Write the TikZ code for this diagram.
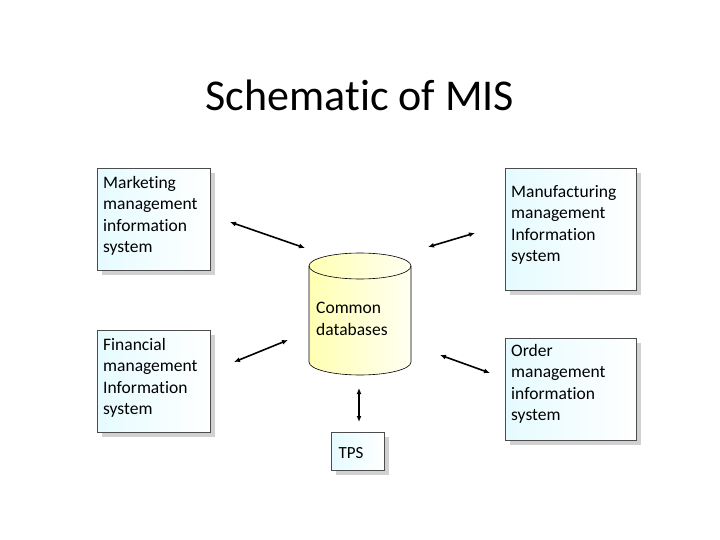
\documentclass[tikz,border=0pt]{standalone}
\usepackage{fontspec}
\setmainfont{Carlito}[Ligatures={NoCommon,NoRare,NoContextual}]
\usetikzlibrary{arrows.meta}
\begin{document}
\begin{tikzpicture}[x=1pt,y=-1pt,
 box/.style={draw=black!70,line width=0.6pt,left color=blue!15!cyan!10,right color=white,anchor=north west,inner sep=0pt},
 lbl/.style={anchor=north west,align=left,font=\fontsize{17.5}{21.5}\selectfont,inner sep=0pt},
 shad/.style={fill=black!18},
 arr/.style={line width=1.6pt,<->,>={Latex[length=6pt,width=5pt]}}]
\useasboundingbox (0,0) rectangle (720,540);
\node[font=\fontsize{44}{46}\selectfont] (title) at (360,95) {Schematic of MIS};
% shadows
\fill[shad] (102,173) rectangle (215,275);
\fill[shad] (102,335) rectangle (215,437);
\fill[shad] (510,173) rectangle (641,295);
\fill[shad] (510,343) rectangle (641,445);
\fill[shad] (336,437) rectangle (389,475);
\node[box,minimum width=113pt,minimum height=102pt] (mkt) at (97,168) {};
\node[lbl] (mktt) at (103,176) {Marketing\\management\\information\\system};
\node[box,minimum width=113pt,minimum height=102pt] (fin) at (97,330) {};
\node[lbl] (fint) at (103,338) {Financial\\management\\Information\\system};
\node[box,minimum width=131pt,minimum height=122pt] (man) at (505,168) {};
\node[lbl] (mant) at (511,185) {Manufacturing\\management\\Information\\system};
\node[box,minimum width=131pt,minimum height=102pt] (ord) at (505,338) {};
\node[lbl] (ordt) at (511,344) {Order\\management\\information\\system};
\node[box,minimum width=53pt,minimum height=38pt] (tps) at (331,432) {};
\node[font=\fontsize{17}{20}\selectfont] (tpst) at (351,453) {TPS};
% cylinder
\draw[line width=0.6pt,left color=yellow!30,right color=yellow!5]
 (309,266) -- (309,362) arc[start angle=180,end angle=0,x radius=51,y radius=13] -- (411,266) arc[start angle=0,end angle=-180,x radius=51,y radius=13];
\draw[line width=0.6pt] (309,266) arc[start angle=180,end angle=0,x radius=51,y radius=13];
\node[lbl] (dbt) at (316,302) {Common\\databases};
\coordinate (a1) at (230,222); \coordinate (b1) at (305,248);
\coordinate (a2) at (428,247); \coordinate (b2) at (475,233);
\coordinate (a3) at (234,362); \coordinate (b3) at (288,340);
\coordinate (a4) at (440,355); \coordinate (b4) at (490,373);
\coordinate (a5) at (359,388); \coordinate (b5) at (359,422);
\draw[arr] (a1)--(b1); \draw[arr] (a2)--(b2); \draw[arr] (a3)--(b3);
\draw[arr] (a4)--(b4); \draw[arr] (a5)--(b5);
\end{tikzpicture}
\end{document}
